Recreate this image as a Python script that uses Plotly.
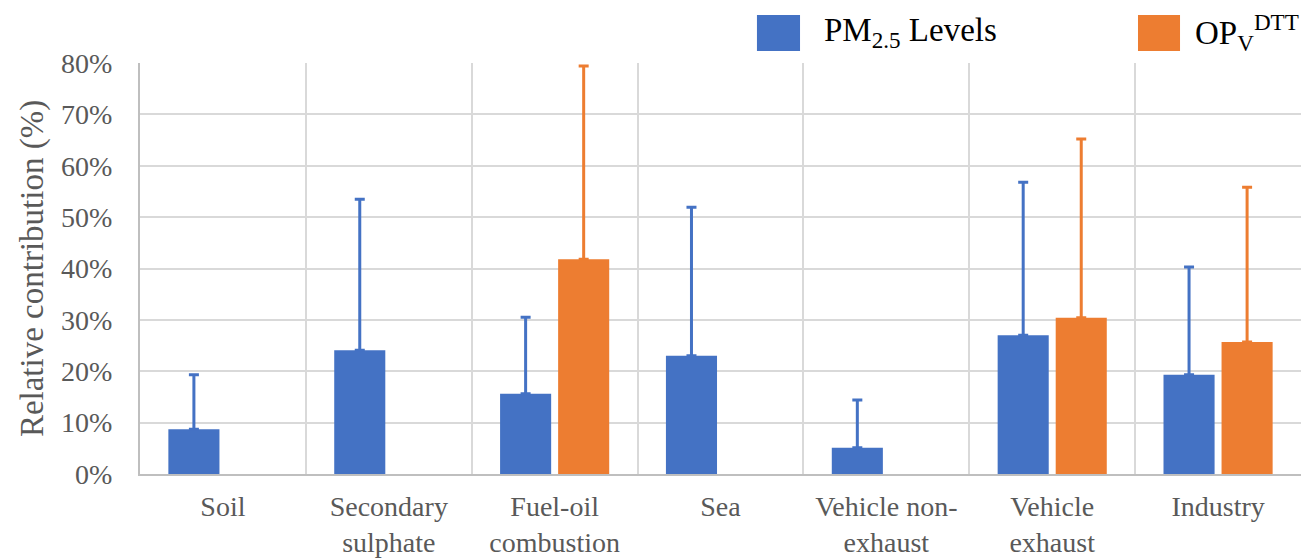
import plotly.graph_objects as go

categories = ["Soil", "Secondary<br>sulphate", "Fuel-oil<br>combustion", "Sea",
              "Vehicle non-<br>exhaust", "Vehicle<br>exhaust", "Industry"]
pm_values = [8.7, 24.1, 15.6, 23.0, 5.1, 27.0, 19.3]
pm_err_top = [19.3, 53.5, 30.5, 51.9, 14.4, 56.8, 40.3]
op_values = [None, None, 41.8, None, None, 30.4, 25.7]
op_err_top = [None, None, 79.4, None, None, 65.2, 55.8]
series_names = ["PM<sub>2.5</sub> Levels", "OP<sub>V</sub><sup>DTT</sup>"]
y_ticks = [0, 10, 20, 30, 40, 50, 60, 70, 80]

BLUE = "#4472C4"
ORANGE = "#ED7D31"
FONT = "Liberation Serif"
XFONT = "Times New Roman"
GRAY = "#595959"

def err(vals, tops):
    return [None if v is None else t - v for v, t in zip(vals, tops)]

fig = go.Figure()
fig.add_trace(go.Bar(
    x=categories, y=pm_values, name=series_names[0], marker_color=BLUE, marker_line_width=0,
    error_y=dict(type="data", symmetric=False, array=err(pm_values, pm_err_top),
                 arrayminus=[0] * len(pm_values), color=BLUE, thickness=3, width=5),
))
fig.add_trace(go.Bar(
    x=categories, y=op_values, name=series_names[1], marker_color=ORANGE, marker_line_width=0,
    error_y=dict(type="data", symmetric=False, array=err(op_values, op_err_top),
                 arrayminus=[0] * len(op_values), color=ORANGE, thickness=3, width=5),
))

fig.update_layout(
    width=1301, height=559,
    margin=dict(l=140, r=0, t=63, b=85, autoexpand=False),
    paper_bgcolor="white", plot_bgcolor="white",
    barmode="group", bargap=0.3, bargroupgap=0.12,
    showlegend=False,
)
fig.update_xaxes(
    type="category", tickson="boundaries", showgrid=True, gridcolor="#d9d9d9", gridwidth=1.5,
    showline=True, linecolor="#bfbfbf", linewidth=2, ticks="", automargin=False,
    tickfont=dict(family=XFONT, size=28, color=GRAY), ticklabelstandoff=6,
)
fig.update_yaxes(
    range=[0, 80], tickvals=y_ticks, ticktext=[f"{v}%" for v in y_ticks],
    showgrid=True, gridcolor="#d9d9d9", gridwidth=1.5, automargin=False,
    showline=True, linecolor="#bfbfbf", linewidth=2, ticks="", zeroline=False,
    tickfont=dict(family=FONT, size=28, color=GRAY), ticklabelstandoff=20,
    title=dict(text="Relative contribution (%)", font=dict(family=FONT, size=33, color=GRAY),
               standoff=8),
)

# legend drawn as shapes + text at top
legend_items = [(series_names[0], BLUE, 0.5314, 0.5685, 0.5874),
                (series_names[1], ORANGE, 0.8596, 0.8958, 0.9070)]
for name, col, x0, x1, xt in legend_items:
    fig.add_shape(type="rect", xref="paper", yref="paper", x0=x0, x1=x1, y0=1.0292, y1=1.1168,
                  fillcolor=col, line_width=0)
    fig.add_annotation(xref="paper", yref="paper", x=xt, y=1.073, xanchor="left", yanchor="middle",
                       text=name, showarrow=False, font=dict(family=FONT, size=33, color="black"))

fig.write_html("out.html", config={"displayModeBar": False},
               post_script="document.body.style.margin='0';")
